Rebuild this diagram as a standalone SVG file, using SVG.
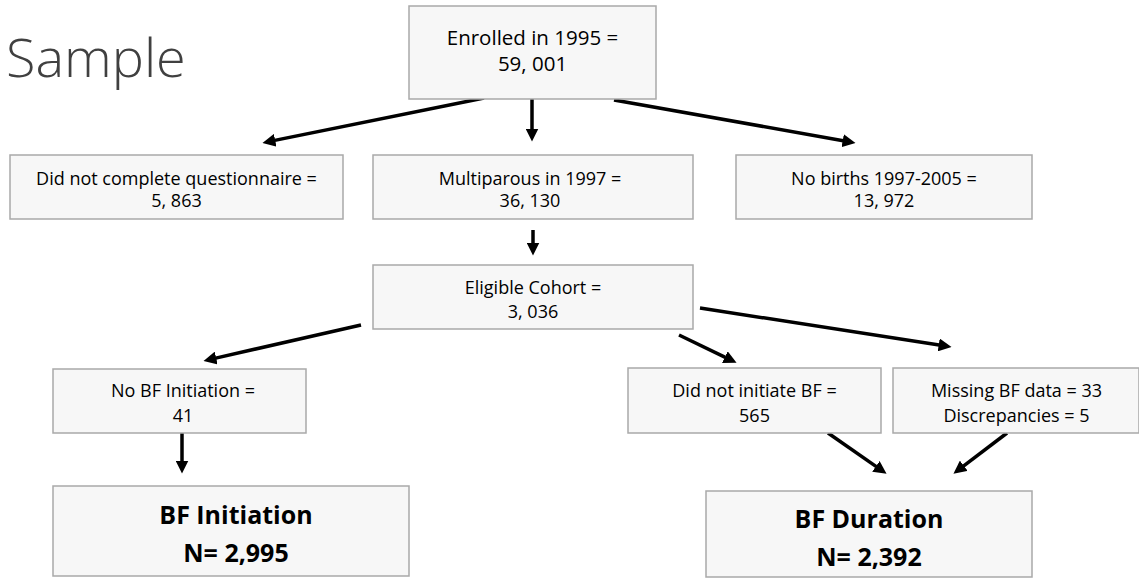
<svg xmlns="http://www.w3.org/2000/svg" width="1139" height="581" viewBox="0 0 1139 581">
<defs>
<style>
.box{fill:#f7f7f7;stroke:#a9a9a9;stroke-width:1.5}
.t{font-family:"Open Sans","Liberation Sans",sans-serif;font-size:18px;fill:#000;text-anchor:middle}
.tl{font-family:"Open Sans","Liberation Sans",sans-serif;font-size:20.5px;fill:#000;text-anchor:middle}
.b{font-family:"Open Sans","Liberation Sans",sans-serif;font-size:25px;font-weight:bold;fill:#000;text-anchor:middle}
.title{font-family:"Open Sans","Liberation Sans",sans-serif;font-size:54px;font-weight:300;fill:#404040}
.c{stroke:#000;stroke-width:3.5;fill:none;marker-end:url(#ah)}
</style>
<marker id="ah" markerUnits="userSpaceOnUse" markerWidth="13" markerHeight="13" viewBox="0 0 13 13" refX="0.5" refY="6.5" orient="auto">
<path d="M0,0 L13,6.5 L0,13 z" fill="#000"/>
</marker>
</defs>
<rect width="1139" height="581" fill="#ffffff"/>
<text class="title" x="6" y="77">Sample</text>

<g id="connectors">
<line class="c" x1="484" y1="98" x2="274.7" y2="140.4"/>
<line class="c" x1="532" y1="99" x2="532" y2="129"/>
<line class="c" x1="614" y1="100" x2="843.2" y2="140.7"/>
<line class="c" x1="533" y1="230" x2="533" y2="243"/>
<line class="c" x1="361" y1="325" x2="215.7" y2="358.1"/>
<line class="c" x1="679" y1="335" x2="725.3" y2="357.3"/>
<line class="c" x1="700" y1="308" x2="939.2" y2="345"/>
<line class="c" x1="182" y1="433" x2="182" y2="461"/>
<line class="c" x1="828" y1="433" x2="876.3" y2="466.6"/>
<line class="c" x1="1007" y1="433" x2="963.4" y2="466.1"/>
</g>

<g id="enrolled">
<rect class="box" x="409" y="6" width="247" height="93"/>
<text class="tl" x="532.5" y="45">Enrolled in 1995 =</text>
<text class="tl" x="532.5" y="71">59, 001</text>
</g>
<g id="not-complete">
<rect class="box" x="10" y="155" width="333" height="64"/>
<text class="t" x="176.5" y="185">Did not complete questionnaire =</text>
<text class="t" x="176.5" y="207">5, 863</text>
</g>
<g id="multiparous">
<rect class="box" x="373" y="155" width="320" height="64"/>
<text class="t" x="530" y="185">Multiparous in 1997 =</text>
<text class="t" x="530" y="207">36, 130</text>
</g>
<g id="no-births">
<rect class="box" x="736" y="155" width="296" height="64"/>
<text class="t" x="884" y="185">No births 1997-2005 =</text>
<text class="t" x="884" y="207">13, 972</text>
</g>
<g id="eligible">
<rect class="box" x="373" y="265" width="320" height="64"/>
<text class="t" x="533" y="294">Eligible Cohort =</text>
<text class="t" x="533" y="318">3, 036</text>
</g>
<g id="no-bf">
<rect class="box" x="53" y="369" width="253" height="64"/>
<text class="t" x="183" y="397">No BF Initiation =</text>
<text class="t" x="183" y="422">41</text>
</g>
<g id="not-initiate">
<rect class="box" x="628" y="368" width="253" height="65"/>
<text class="t" x="754.5" y="397">Did not initiate BF =</text>
<text class="t" x="754.5" y="422">565</text>
</g>
<g id="missing">
<rect class="box" x="893" y="368" width="246" height="65"/>
<text class="t" x="1016.5" y="397">Missing BF data = 33</text>
<text class="t" x="1016.5" y="422">Discrepancies = 5</text>
</g>
<g id="bf-initiation">
<rect class="box" x="53" y="486" width="356" height="90"/>
<text class="b" x="236" y="524">BF Initiation</text>
<text class="b" x="236" y="562">N= 2,995</text>
</g>
<g id="bf-duration">
<rect class="box" x="706" y="491" width="326" height="86"/>
<text class="b" x="869" y="528">BF Duration</text>
<text class="b" x="869" y="566">N= 2,392</text>
</g>
</svg>
